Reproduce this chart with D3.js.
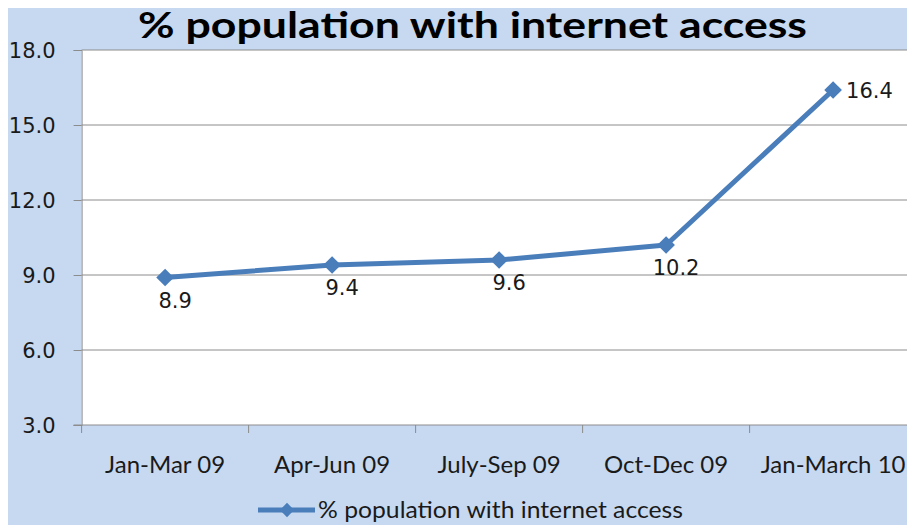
<!DOCTYPE html>
<html>
<head>
<meta charset="utf-8">
<script src="https://cdn.jsdelivr.net/npm/d3@7"></script>
<style>
  html, body { margin: 0; padding: 0; background: #ffffff; }
  svg { display: block; }
</style>
</head>
<body>
<svg id="chart" width="907" height="525"></svg>
<script>
const chartTitle = "% population with internet access";
const seriesName = "% population with internet access";
const categories = ["Jan-Mar 09", "Apr-Jun 09", "July-Sep 09", "Oct-Dec 09", "Jan-March 10"];
const values = [8.9, 9.4, 9.6, 10.2, 16.4];
const yTicks = [3, 6, 9, 12, 15, 18];

const svg = d3.select("#chart");
const W = 907, H = 525;
const plot = { left: 81.6, right: 916.6, top: 50, bottom: 425 };
const lineColor = "#4A7EBB";
const gridColor = "#8C8C8C";
const bg = "#C6D9F1";

svg.append("rect").attr("x", 8).attr("y", 8).attr("width", W).attr("height", H).attr("fill", bg);
svg.append("rect").attr("x", plot.left).attr("y", plot.top)
  .attr("width", plot.right - plot.left).attr("height", plot.bottom - plot.top).attr("fill", "#ffffff");

const x = d3.scaleBand().domain(categories).range([plot.left, plot.right]);
const y = d3.scaleLinear().domain([3, 18]).range([plot.bottom, plot.top]);

// gridlines
svg.append("g").selectAll("line").data(yTicks.filter(t => t !== 3)).join("line")
  .attr("x1", plot.left).attr("x2", plot.right)
  .attr("y1", d => y(d)).attr("y2", d => y(d))
  .attr("stroke", gridColor).attr("stroke-width", 1);

// y axis
const yAxis = d3.axisLeft(y).tickValues(yTicks).tickFormat(d3.format(".1f")).tickSize(8).tickPadding(18);
const gy = svg.append("g").attr("transform", `translate(${plot.left},0)`).call(yAxis);
gy.select(".domain").attr("stroke", gridColor);
gy.selectAll(".tick line").attr("stroke", gridColor);
gy.selectAll(".tick text").attr("font-family", "DejaVu Sans").attr("font-size", 21).attr("fill", "#1a1a1a").attr("dy", "0.36em");

// x axis: ticks at category boundaries
const gx = svg.append("g").attr("transform", `translate(0,${plot.bottom})`);
gx.append("line").attr("x1", plot.left - 8).attr("x2", plot.right).attr("y1", 0).attr("y2", 0).attr("stroke", gridColor);
gx.selectAll("line.tk").data(categories).join("line").attr("class", "tk")
  .attr("x1", d => x(d)).attr("x2", d => x(d)).attr("y1", 0).attr("y2", 8).attr("stroke", gridColor);
gx.selectAll("text").data(categories).join("text")
  .attr("x", d => x(d) + x.bandwidth() / 2).attr("y", 48)
  .attr("text-anchor", "middle").attr("font-family", "Lato").attr("font-size", 24).attr("fill", "#1a1a1a")
  .text(d => d);

// line
const data = categories.map((c, i) => ({ c, v: values[i] }));
const cx = d => x(d.c) + x.bandwidth() / 2;
svg.append("path").datum(data)
  .attr("d", d3.line().x(cx).y(d => y(d.v)))
  .attr("fill", "none").attr("stroke", lineColor).attr("stroke-width", 5).attr("stroke-linejoin", "round");

const diamond = d3.symbol().type(d3.symbolDiamond2).size(200);
svg.append("g").selectAll("path").data(data).join("path")
  .attr("d", diamond).attr("transform", d => `translate(${cx(d)},${y(d.v)})`).attr("fill", lineColor);

// data labels
svg.append("g").selectAll("text").data(data).join("text")
  .attr("x", (d, i) => i === data.length - 1 ? cx(d) + 13 : cx(d) + 10)
  .attr("y", (d, i) => i === data.length - 1 ? y(d.v) + 8 : y(d.v) + 30)
  .attr("text-anchor", (d, i) => i === data.length - 1 ? "start" : "middle")
  .attr("font-family", "DejaVu Sans").attr("font-size", 21).attr("fill", "#1a1a1a")
  .text(d => d3.format(".1f")(d.v));

// title
svg.append("text").attr("x", 138).attr("y", 38)
  .attr("textLength", 669).attr("lengthAdjust", "spacingAndGlyphs")
  .attr("font-family", "Lato").attr("font-weight", "bold").attr("font-size", 37).attr("fill", "#000")
  .text(chartTitle);

// legend
const lg = svg.append("g").attr("transform", "translate(258,510)");
lg.append("line").attr("x1", 0).attr("x2", 57).attr("y1", 0).attr("y2", 0).attr("stroke", lineColor).attr("stroke-width", 5);
lg.append("path").attr("d", d3.symbol().type(d3.symbolDiamond2).size(130)).attr("transform", "translate(29,0)").attr("fill", lineColor);
lg.append("text").attr("x", 60).attr("y", 8).attr("textLength", 365).attr("lengthAdjust", "spacingAndGlyphs")
  .attr("font-family", "Lato").attr("font-size", 23).attr("fill", "#1a1a1a").text(seriesName);
</script>
</body>
</html>
